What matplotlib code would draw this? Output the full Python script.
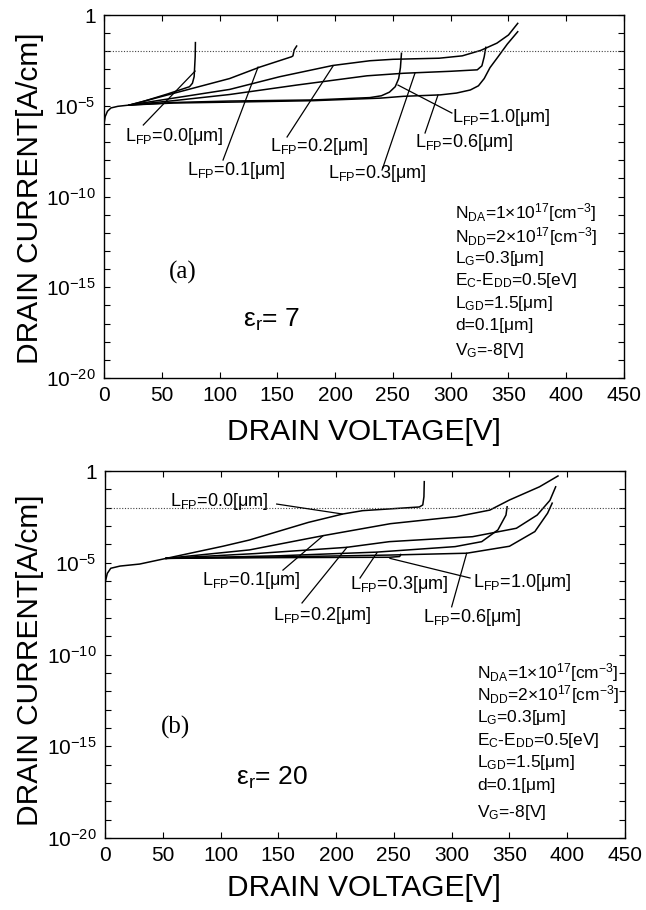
import numpy as np
import matplotlib.pyplot as plt
from matplotlib.ticker import FixedLocator, NullLocator

plt.rcParams['font.family'] = ['Liberation Sans', 'DejaVu Sans']
plt.rcParams['mathtext.fontset'] = 'custom'
plt.rcParams['mathtext.rm'] = 'Liberation Sans'
plt.rcParams['mathtext.it'] = 'Liberation Sans'
plt.rcParams['mathtext.default'] = 'regular'

# field plate lengths [um]
lfp = ['0.0', '0.1', '0.2', '0.3', '0.6', '1.0']

# (a) er = 7 : common start of all curves, then one curve per LFP (log10 of current)
start_v_a = [0, 1, 3, 6, 12, 22]
start_i_a = [-6.0, -5.6, -5.3, -5.12, -5.03, -4.96]
volts_a = [
    [22, 33, 55, 74, 76.5, 78, 78.9, 79.1],
    [22, 60, 108.7, 134.8, 162.3, 163.5, 164.5, 166.7],
    [22, 60, 108.7, 152, 198, 230, 250, 290, 310, 326, 340, 350, 358],
    [22, 60, 108.7, 166.7, 227.5, 259, 300, 323, 327, 329, 330.4],
    [22, 60, 108.7, 181, 239, 259, 291, 305, 317, 324, 329, 334, 341, 349, 358],
    [22, 60, 108.7, 181, 230, 240, 247, 252, 255, 256.5, 257.4],
]
logi_a = [
    [-4.96, -4.78, -4.35, -3.95, -3.76, -3.4, -2.3, -1.52],
    [-4.96, -4.32, -3.5, -2.87, -2.3, -2.25, -1.93, -1.71],
    [-4.96, -4.58, -4.1, -3.4, -2.78, -2.52, -2.44, -2.38, -2.25, -1.95, -1.55, -1.1, -0.46],
    [-4.96, -4.72, -4.38, -3.86, -3.35, -3.21, -3.1, -3.02, -2.8, -2.3, -1.78],
    [-4.96, -4.85, -4.8, -4.72, -4.58, -4.48, -4.4, -4.3, -4.13, -3.9, -3.5, -2.9, -2.3, -1.6, -0.92],
    [-4.96, -4.82, -4.74, -4.68, -4.55, -4.45, -4.25, -3.95, -3.5, -2.9, -2.11],
]

# (b) er = 20
start_v_b = [0, 2, 5, 13, 30, 53]
start_i_b = [-6.12, -5.58, -5.3, -5.18, -5.07, -4.76]
volts_b = [
    [53, 102, 125, 176, 206, 223, 250, 272, 275, 276, 276.3],
    [53, 125, 170, 189, 247, 304, 333, 350, 376, 392],
    [53, 130, 209, 246, 318, 356, 374, 385, 390],
    [53, 150, 235, 303, 326, 340, 347, 348],
    [53, 150, 246, 313, 350, 372, 383, 387],
    [53, 150, 246, 255, 256],
]
logi_b = [
    [-4.76, -4.1, -3.76, -2.8, -2.34, -2.16, -2.05, -1.96, -1.85, -1.4, -0.58],
    [-4.76, -4.3, -3.75, -3.52, -2.87, -2.49, -2.13, -1.58, -0.86, -0.27],
    [-4.76, -4.5, -4.16, -3.85, -3.58, -3.12, -2.4, -1.6, -0.86],
    [-4.76, -4.62, -4.42, -4.12, -3.85, -3.21, -2.4, -1.95],
    [-4.76, -4.68, -4.58, -4.48, -4.1, -3.3, -2.3, -1.75],
    [-4.76, -4.72, -4.7, -4.66, -4.55],
]

params = [r'N$_{\rm DA}$=1×10$^{17}$[cm$^{-3}$]', r'N$_{\rm DD}$=2×10$^{17}$[cm$^{-3}$]',
          r'L$_{\rm G}$=0.3[μm]', r'E$_{\rm C}$-E$_{\rm DD}$=0.5[eV]',
          r'L$_{\rm GD}$=1.5[μm]', 'd=0.1[μm]', r'V$_{\rm G}$=-8[V]']

# label text (V, log I) and leader line (from, to) for each LFP
lab_a = [(18, -6.72), (72, -8.54), (144, -7.22), (194, -8.71), (269, -7.0), (301, -5.62)]
lead_a = [((34, -6.06), (78.8, -3.09)), ((103, -7.99), (133.3, -2.87)),
          ((158.4, -6.72), (198.2, -2.81)), ((240.6, -8.54), (269.1, -3.2)),
          ((277.8, -6.5), (289, -4.41)), ((301, -5.4), (254.4, -3.86))]
lab_b = [(56, -1.67), (84, -5.94), (145, -7.85), (212, -6.16), (275, -7.96), (318.5, -6.1)]
lead_b = [((148.6, -1.8), (205.2, -2.34)), ((154, -5.4), (188.7, -3.53)),
          ((170.5, -7.19), (209.4, -4.16)), ((220.7, -5.83), (235.4, -4.45)),
          ((300, -7.4), (313, -4.48)), ((315.9, -5.83), (246.6, -4.76))]

fig = plt.figure(figsize=(6.46, 9.10), dpi=100)
ax1 = fig.add_axes([0.161, 0.5846, 0.805, 0.3989])
ax2 = fig.add_axes([0.1625, 0.0791, 0.805, 0.4033])


def panel(ax, sv, si, volts, logis, labs, leads, param_x, param_y, tag, tag_xy, eps, eps_xy):
    ax.plot(sv, 10.0 ** np.array(si), color='black', lw=1.1)
    for v, li in zip(volts, logis):
        ax.plot(v, 10.0 ** np.array(li), color='black', lw=1.1)
    ax.axhline(1e-2, color='#444444', ls=(0, (1, 1.5)), lw=0.8)
    for name, (tx, ty), (p0, p1) in zip(lfp, labs, leads):
        ax.plot([p0[0], p1[0]], [10 ** p0[1], 10 ** p1[1]], color='black', lw=0.9)
        ax.text(tx, 10 ** ty, r'L$_{\rm FP}$=' + name + '[μm]',
                fontsize=13, ha='left', va='center')
    for txt, y in zip(params, param_y):
        ax.text(param_x, y, txt, transform=ax.transAxes, fontsize=12.5, va='center')
    ax.text(tag_xy[0], tag_xy[1], tag, transform=ax.transAxes, family='Liberation Serif',
            fontsize=18, ha='center', va='center')
    ax.text(eps_xy[0], eps_xy[1], r'ε$_{\rm r}$= ' + eps, transform=ax.transAxes,
            fontsize=19, ha='center', va='center')
    ax.set_yscale('log')
    ax.set_xlim(0, 450)
    ax.set_ylim(1e-20, 1)
    ax.set_xticks(np.arange(0, 451, 50))
    ax.yaxis.set_major_locator(FixedLocator([10.0 ** -k for k in range(21)]))
    ax.yaxis.set_minor_locator(NullLocator())
    ax.set_yticklabels(['1' if k == 0 else (r'10$^{-%d}$' % k if k % 5 == 0 else '')
                        for k in range(21)])
    ax.tick_params(direction='in', top=True, right=True, length=4, width=0.8,
                   labelsize=15, pad=6)
    for s in ax.spines.values():
        s.set_linewidth(1.0)


panel(ax1, start_v_a, start_i_a, volts_a, logi_a, lab_a, lead_a, 0.675,
      [0.4545, 0.391, 0.3306, 0.27, 0.2066, 0.146, 0.0771], '(a)', (0.152, 0.292), '7', (0.323, 0.16))
panel(ax2, start_v_b, start_i_b, volts_b, logi_b, lab_b, lead_b, 0.715,
      [0.4496, 0.3896, 0.3297, 0.267, 0.207, 0.1444, 0.0708], '(b)', (0.1365, 0.3025), '20', (0.321, 0.1635))

for yc, xl in [(198 / 910, 432 / 910), (660 / 910, 888 / 910)]:
    fig.text(30 / 646, 1 - yc, 'DRAIN CURRENT[A/cm]', fontsize=21.5,
             rotation=90, ha='center', va='center')
    fig.text(364 / 646, 1 - xl, 'DRAIN VOLTAGE[V]', fontsize=21.5,
             ha='center', va='center')

plt.savefig('out.png', dpi=100)
